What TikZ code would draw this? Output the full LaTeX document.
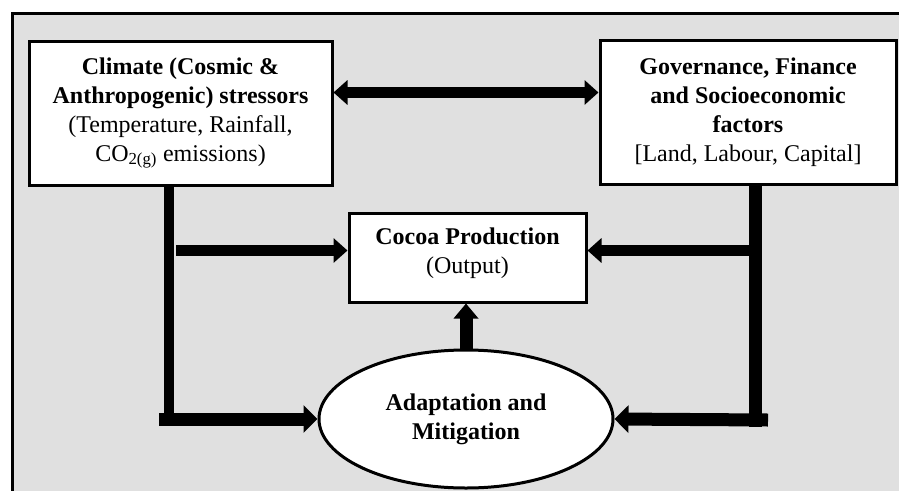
\documentclass[tikz,border=0pt]{standalone}
\usepackage{fontspec}
\setmainfont{Liberation Serif}
\usetikzlibrary{arrows.meta,shapes.geometric}
\definecolor{bggray}{RGB}{224,224,224}
\begin{document}
\begin{tikzpicture}[x=1pt,y=-1pt,
  txtfont/.style={font=\fontsize{24}{29}\selectfont},
  boxnode/.style={draw, line width=3pt, fill=white, align=center, inner sep=0pt, txtfont},
  lbl/.style={align=center, inner sep=0pt, txtfont},
  fatarrow/.style={line width=11pt, -{Triangle[length=14pt,width=24pt]}},
  bigarrow/.style={line width=13pt, -{Triangle[length=14pt,width=27pt]}},
  duoarrow/.style={line width=11pt, {Triangle[length=14pt,width=24pt]}-{Triangle[length=14pt,width=24pt]}},
  leftbar/.style={line width=10pt},
  rightbar/.style={line width=13pt}
]
\useasboundingbox (0,0) rectangle (899,490);
\clip (0,0) rectangle (899,490);
\fill[white] (0,0) rectangle (899,490);
\draw[line width=3pt, fill=bggray] (12,13) rectangle (915,505);

\node[boxnode, minimum width=303pt, minimum height=144pt] (clim) at (180.5,113)
  {\textbf{Climate (Cosmic \&}\\\textbf{Anthropogenic) stressors}\\(Temperature, Rainfall,\\CO\textsubscript{2(g)} emissions)};
\node[boxnode, minimum width=296pt, minimum height=144pt] (gov) at (748,112)
  {\textbf{Governance, Finance}\\\textbf{and Socioeconomic}\\\textbf{factors}\\{[}Land, Labour, Capital{]}};
\node[boxnode, minimum width=237pt, minimum height=89pt] (cocoa) at (467.5,257.5) {};
\node[lbl] (cocoalbl) at (467.5,253) {\textbf{Cocoa Production}\\(Output)};
\node[ellipse, draw, line width=3pt, fill=white, minimum width=294pt, minimum height=138pt, inner sep=0pt, align=center, txtfont] (adapt) at (466,419)
  {\textbf{Adaptation and}\\\textbf{Mitigation}};

% coordinates for connector routing
\coordinate (da) at (466,92.5);
\coordinate (lc) at (169,419);
\coordinate (lstart) at (159,419);
\coordinate (lmid) at (176,250.5);
\coordinate (rc) at (755.5,420);
\coordinate (rstart) at (768,420);
\coordinate (rmid) at (749,250.5);

% double arrow
\draw[duoarrow] (clim.east |- da) -- (gov.west |- da);
% left side
\draw[leftbar] (clim.south -| lc) -- ([yshift=-7pt]lc);
\draw[bigarrow] (lstart) -- (adapt.west);
\draw[fatarrow] (lmid) -- (lmid -| cocoa.west);
% right side
\draw[rightbar] (gov.south -| rc) -- ([yshift=-7pt]rc);
\draw[bigarrow] (rstart) -- (adapt.east);
\draw[fatarrow] (rmid) -- (rmid -| cocoa.east);
% up arrow
\draw[line width=13pt, -{Triangle[length=15pt,width=24pt]}] (adapt.north) -- (adapt.north |- cocoa.south);
\end{tikzpicture}
\end{document}
